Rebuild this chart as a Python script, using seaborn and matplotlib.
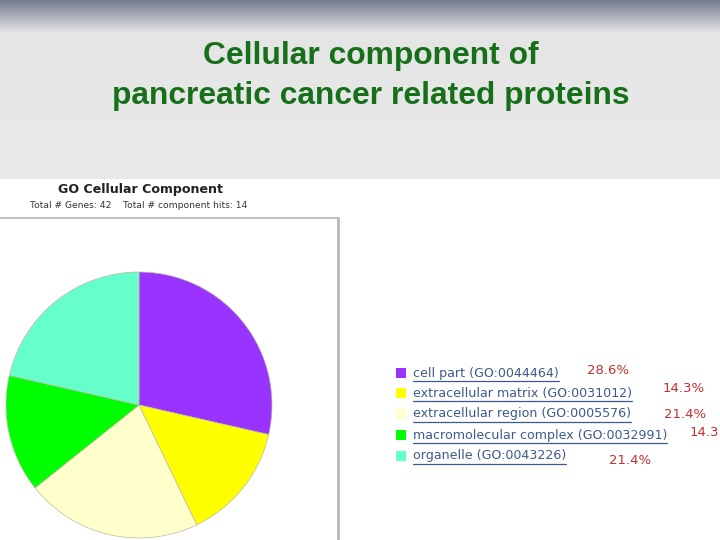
import numpy as np
import matplotlib
matplotlib.use("Agg")
import matplotlib.pyplot as plt
from matplotlib.lines import Line2D
from matplotlib.patches import Rectangle
import seaborn as sns

sns.set_theme(style="white")
plt.rcParams['font.family'] = ['DejaVu Sans']

# ---- data ----
categories = ["cell part", "extracellular matrix", "extracellular region",
              "macromolecular complex", "organelle"]
go_ids = ["GO:0044464", "GO:0031012", "GO:0005576", "GO:0032991", "GO:0043226"]
hits = [4, 2, 3, 2, 3]
percent_labels = ["28.6%", "14.3%", "21.4%", "14.3", "21.4%"]
colors = ["#9933ff", "#ffff00", "#ffffcc", "#00ff00", "#66ffcc"]
total_genes = 42
total_hits = 14

W, H = 720, 540
fig = plt.figure(figsize=(7.2, 5.4), dpi=100)

def fx(x):
    return x / W

def fy(y):
    return 1 - y / H

# ---- background ----
bg = fig.add_axes([0, 0, 1, 1])
bg.set_axis_off()
rows = np.ones((H, 4, 3))
top = np.array([0x76, 0x7c, 0x90]) / 255
light = np.array([0xe5, 0xe5, 0xe5]) / 255
for y in range(H):
    if y < 32:
        t = y / 32
        rows[y, :] = top * (1 - t) + light * t
    elif y < 179:
        rows[y, :] = light + (np.array([0xea, 0xea, 0xea]) / 255 - light) * (y - 32) / 147
    else:
        rows[y, :] = [1, 1, 1]
bg.imshow(rows, aspect="auto", extent=[0, W, H, 0], interpolation="nearest")
bg.set_xlim(0, W)
bg.set_ylim(H, 0)
# panel border
bg.add_line(Line2D([0, 338], [218, 218], color="#c0c0c0", lw=1.5))
bg.add_line(Line2D([338, 338], [218, 540], color="#b8b8b8", lw=2))

# ---- slide title ----
fig.text(fx(371), fy(56), "Cellular component of", ha="center", va="center",
         fontsize=22.9, fontweight="bold", color="#16701a", family=["Liberation Sans"])
fig.text(fx(371), fy(96), "pancreatic cancer related proteins", ha="center",
         va="center", fontsize=22.9, fontweight="bold", color="#16701a",
         family=["Liberation Sans"])

# ---- GO panel titles ----
fig.text(fx(140), fy(190), "GO Cellular Component", ha="center", va="center",
         fontsize=9.1, fontweight="bold", color="#222222")
fig.text(fx(139), fy(206), f"Total # Genes: {total_genes}    Total # component hits: {total_hits}",
         ha="center", va="center", fontsize=6.6, color="#333333")

# ---- pie ----
cx, cy, r = 139, 405, 133
ax = fig.add_axes([fx(cx - r), fy(cy + r), 2 * r / W, 2 * r / H])
ax.pie(hits, colors=colors, startangle=90, counterclock=False,
       wedgeprops=dict(edgecolor="#c0b8a0", linewidth=0.5))
ax.set_xlim(-1, 1)
ax.set_ylim(-1, 1)
ax.set_aspect("equal")
ax.set_axis_off()

# ---- legend ----
row_y = [373, 393, 414, 435, 456]
pct_pos = [(587, 370), (663, 389), (664, 414), (690, 433), (609, 460)]
texts = []
for i, (cat, gid) in enumerate(zip(categories, go_ids)):
    y = row_y[i]
    bg.add_patch(Rectangle((396, y - 5), 10, 10, facecolor=colors[i], edgecolor="none"))
    t = fig.text(fx(413), fy(y), f"{cat} ({gid})", ha="left", va="center",
                 fontsize=9.1, color="#3d5a8c")
    texts.append((t, y))
    px, py = pct_pos[i]
    fig.text(fx(px), fy(py), percent_labels[i], ha="left", va="center",
             fontsize=9.5, color="#c43030")

fig.canvas.draw()
renderer = fig.canvas.get_renderer()
for t, y in texts:
    bb = t.get_window_extent(renderer)
    bg.add_line(Line2D([bb.x0, bb.x1], [y + 8, y + 8], color="#3d5a8c", lw=0.9))

fig.savefig("out.png", dpi=100)
